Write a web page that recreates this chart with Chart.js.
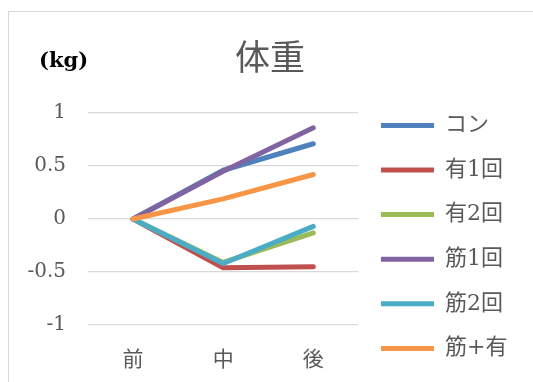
<!DOCTYPE html>
<html>
<head>
<meta charset="utf-8">
<script src="https://cdn.jsdelivr.net/npm/chart.js@4"></script>
<style>
  html, body { margin: 0; padding: 0; background: #fff; overflow: hidden; }
  .frame { position: absolute; left: 8px; top: 11px; width: 560px; height: 400px; border: 1px solid #d9d9d9; }
  #weightChart { position: absolute; left: 0; top: 0; }
</style>
</head>
<body>
<div class="frame"></div>
<canvas id="weightChart" width="533" height="382"></canvas>
<script>
// データ
const categories = ['前', '中', '後'];
const seriesNames = ['コン', '有1回', '有2回', '筋1回', '筋2回', '筋+有'];
const seriesValues = [
    [0, 0.46, 0.71],
    [0, -0.46, -0.45],
    [0, -0.41, -0.13],
    [0, 0.45, 0.86],
    [0, -0.42, -0.07],
    [0, 0.19, 0.42]
];
const seriesColors = ['#4F81BD', '#C0504D', '#9BBB59', '#8064A2', '#4BACC6', '#F79646'];
const yTicks = [-1, -0.5, 0, 0.5, 1];

const serif = '"DejaVu Serif", "Noto Sans CJK JP", serif';
const cjk = '"Noto Sans CJK JP", sans-serif';

// (kg) のラベル
const unitLabel = {
    id: 'unitLabel',
    afterDraw(chart) {
        const ctx = chart.ctx;
        ctx.save();
        ctx.font = 'bold 21px ' + serif;
        ctx.fillStyle = '#000';
        ctx.textBaseline = 'middle';
        ctx.fillText('(kg)', 39, 62);
        ctx.restore();
    }
};

new Chart(document.getElementById('weightChart'), {
    type: 'line',
    data: {
        labels: categories,
        datasets: seriesNames.map((name, i) => ({
            label: name,
            data: seriesValues[i],
            borderColor: seriesColors[i],
            backgroundColor: seriesColors[i],
            borderWidth: 5,
            borderCapStyle: 'round',
            borderJoinStyle: 'round',
            pointRadius: 0,
            tension: 0,
            // 後のシリーズを上に描く
            order: seriesNames.length - i
        }))
    },
    options: {
        responsive: false,
        animation: false,
        devicePixelRatio: 1,
        layout: { padding: { top: 0, right: 15.6, bottom: 0, left: 22.6 } },
        scales: {
            x: {
                offset: true,
                grid: { display: false },
                border: { display: false },
                ticks: { color: '#595959', font: { family: cjk, size: 21 }, padding: 12 },
                afterFit: s => { s.height = 57; }
            },
            y: {
                min: -1,
                max: 1,
                grid: { color: '#d9d9d9', lineWidth: 1.3, drawTicks: false },
                border: { display: false },
                ticks: {
                    stepSize: 0.5,
                    color: '#595959',
                    font: { family: serif, size: 20 },
                    padding: 22,
                    callback: v => yTicks.includes(v) ? String(v) : ''
                },
                afterFit: s => { s.width = 65.4; }
            }
        },
        plugins: {
            title: {
                display: true,
                text: '体重',
                color: '#595959',
                font: { family: cjk, size: 35, weight: 'normal' },
                padding: { top: 36, bottom: 35 }
            },
            legend: {
                position: 'right',
                align: 'end',
                reverse: true,
                maxWidth: 220,
                labels: {
                    usePointStyle: true,
                    pointStyle: 'line',
                    pointStyleWidth: 53,
                    padding: 22.6,
                    color: '#595959',
                    font: { family: serif, size: 22 }
                }
            },
            tooltip: { enabled: false }
        }
    },
    plugins: [unitLabel]
});
</script>
</body>
</html>
